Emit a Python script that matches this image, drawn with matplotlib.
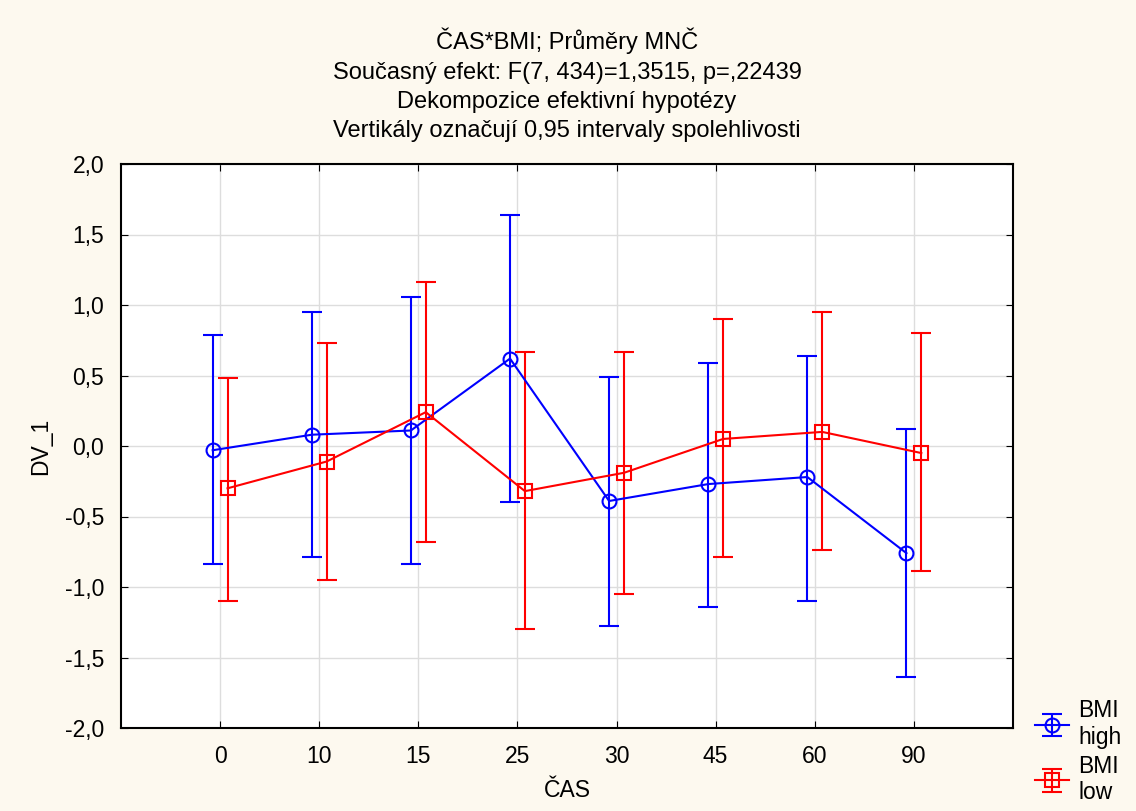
import numpy as np
import matplotlib.pyplot as plt
from matplotlib.ticker import FuncFormatter

plt.rcParams['font.family'] = ['Liberation Sans', 'DejaVu Sans']

cas = ['0', '10', '15', '25', '30', '45', '60', '90']

high_mean = [-0.03, 0.08, 0.11, 0.62, -0.39, -0.27, -0.22, -0.76]
high_up = [0.79, 0.95, 1.06, 1.64, 0.49, 0.59, 0.64, 0.12]
high_lo = [-0.84, -0.79, -0.84, -0.40, -1.28, -1.14, -1.10, -1.64]

low_mean = [-0.30, -0.11, 0.24, -0.32, -0.19, 0.05, 0.10, -0.05]
low_up = [0.48, 0.73, 1.16, 0.67, 0.67, 0.90, 0.95, 0.80]
low_lo = [-1.10, -0.95, -0.68, -1.30, -1.05, -0.79, -0.74, -0.89]

bg = '#fdf9ef'
fs = 16.5
fig = plt.figure(figsize=(11.36, 8.11), dpi=100, facecolor=bg)
ax = fig.add_axes([121 / 1136, 1 - 728 / 811, (1013 - 121) / 1136, (728 - 164) / 811])
ax.set_facecolor('white')

x = np.arange(len(cas))
off = 0.075


def draw(xs, m, up, lo, col, mk, lab):
    m = np.array(m)
    err = [m - np.array(lo), np.array(up) - m]
    ax.errorbar(xs, m, yerr=err, color=col, marker=mk, markersize=10,
                markerfacecolor='none', markeredgewidth=1.5, linewidth=1.5,
                elinewidth=1.5, capsize=7, capthick=1.5, label=lab, zorder=3)


draw(x - off, high_mean, high_up, high_lo, '#0000ff', 'o', 'BMI\nhigh')
draw(x + off, low_mean, low_up, low_lo, '#ff0000', 's', 'BMI\nlow')

ax.set_xlim(-1, 8)
ax.set_ylim(-2, 2)
ax.set_xticks(x)
ax.set_xticklabels(cas)
ax.set_yticks(np.arange(-2, 2.01, 0.5))
ax.yaxis.set_major_formatter(FuncFormatter(lambda v, p: ('%.1f' % v).replace('.', ',')))
ax.grid(True, color='#dddddd', linewidth=1)
ax.set_axisbelow(True)
ax.tick_params(direction='in', length=5, top=True, right=True, labelsize=fs)
ax.tick_params(axis='x', pad=12)
ax.tick_params(axis='y', pad=12)
for s in ax.spines.values():
    s.set_linewidth(1.5)

ax.set_xlabel('ČAS', fontsize=fs, labelpad=8)
ax.set_ylabel('DV_1', fontsize=fs, labelpad=9)

fig.text(0.5 * (121 + 1013) / 1136, 1 - 28 / 811,
         'ČAS*BMI; Průměry MNČ\nSoučasný efekt: F(7, 434)=1,3515, p=,22439\n'
         'Dekompozice efektivní hypotézy\nVertikály označují 0,95 intervaly spolehlivosti',
         fontsize=17, linespacing=1.42, ha='center', va='top')

fig.legend(loc='lower left', bbox_to_anchor=(1028 / 1136, 0.0), frameon=False,
           fontsize=fs, handlelength=1.5, handletextpad=0.4, labelspacing=0.25,
           borderaxespad=0.0, borderpad=0.3)

fig.savefig('out.png', dpi=100, facecolor=bg)
